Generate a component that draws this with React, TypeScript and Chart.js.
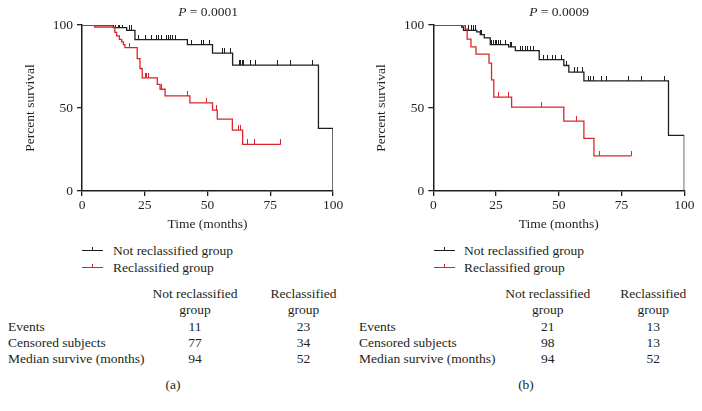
import React, { useEffect, useRef } from "react";
import { Chart, registerables } from "chart.js";
Chart.register(...registerables);

// ---------- data ----------
const xTickValues = [0, 25, 50, 75, 100];
const yTickValues = [0, 50, 100];
const groupNames = ["Not reclassified group", "Reclassified group"];
const pValues = ["0.0001", "0.0009"];
const panelLetters = ["(a)", "(b)"];
const tableRowLabels = ["Events", "Censored subjects", "Median survive (months)"];
const tableA_notReclassified = ["11", "77", "94"];
const tableA_reclassified = ["23", "34", "52"];
const tableB_notReclassified = ["21", "98", "94"];
const tableB_reclassified = ["13", "13", "52"];

// Panel (a) — Kaplan–Meier steps (time in months, percent survival)
const aNotT = [0, 12.5, 17.8, 21.1, 42, 52, 60, 94.2, 100];
const aNotS = [100, 98.4, 96.8, 91.2, 88.2, 83, 75.8, 37.7, 0];
const aNotCensor = [7.2, 7.8, 8.5, 11.2, 13.5, 14.5, 15.1, 16.2, 18.9, 19.8, 22.4, 25.1, 27.8, 29.5, 30.4, 31.7, 33.7, 34.4, 35.1, 36, 37.1, 43.7, 47.7, 48.3, 50.7, 56, 56.9, 59, 62.7, 63.2, 63.9, 64.3, 67.2, 69.3, 77.8, 83.1, 91.9];
const aRecT = [0, 5, 13.1, 13.8, 14.9, 15.8, 16.5, 17.1, 22, 23.1, 24, 30, 31.1, 33.1, 43, 52, 53.9, 59.9, 64, 79.2];
const aRecS = [100, 98.8, 95.5, 93.4, 91.4, 89.8, 88.2, 86.4, 79.8, 73.8, 68.2, 64.2, 61.3, 57.3, 53.1, 48.7, 43.3, 36.7, 28.1, 28.1];
const aRecCensor = [19.1, 25.1, 25.8, 26.4, 31.7, 42, 49.7, 53.4, 62.3, 63, 65.9, 68.9, 79.2];

// Panel (b)
const bNotT = [0, 11.3, 12, 17.3, 18.7, 20.3, 22.7, 30, 32.7, 42.2, 52, 54, 60, 93.7, 100];
const bNotS = [100, 98.8, 96.8, 95.8, 94.2, 92.2, 88.2, 86.8, 84.6, 79.2, 75.6, 71.6, 66.3, 33.5, 0];
const bNotCensor = [7.3, 8, 8.7, 9.3, 12.7, 14, 15.3, 16, 16.7, 18.9, 19.3, 23.3, 24, 24.7, 25.3, 26, 26.7, 28.7, 30.7, 31.3, 34.7, 35.7, 36.7, 37.7, 38.7, 40, 44, 45.3, 47.3, 48.7, 51, 53, 56.3, 57.3, 59.3, 62, 62.7, 63.7, 66.9, 69.1, 77.6, 83, 92];
const bRecT = [0, 12.7, 13.5, 15, 17, 22.2, 23.2, 24.1, 31.2, 52, 60, 64, 79];
const bRecS = [100, 97.5, 91.5, 86.8, 82.5, 77, 67, 56.5, 50.5, 42.1, 31.7, 21.2, 21.2];
const bRecCensor = [9.3, 10, 26, 30, 43.3, 57.1, 66.3, 79];

// ---------- styles ----------
const BLACK = "#1e1e1e";
const RED = "#d9262c";
const TEXT = "#231f20";
const FONT = "'Liberation Serif', 'Times New Roman', serif";
const FS = 13.5;

function stepAt(ts: number[], ss: number[], t: number) {
  let v = ss[0];
  for (let i = 0; i < ts.length; i++) if (ts[i] <= t) v = ss[i];
  return v;
}

function tickImage(color: string) {
  const c = document.createElement("canvas");
  c.width = 1;
  c.height = 10;
  const g = c.getContext("2d")!;
  g.fillStyle = color;
  g.fillRect(0, 0, 1, 5);
  return c;
}

type PanelData = {
  notT: number[]; notS: number[]; notC: number[];
  recT: number[]; recS: number[]; recC: number[];
};

function KMChart({ d, left, width, axisW }: { d: PanelData; left: number; width: number; axisW: number }) {
  const ref = useRef<HTMLCanvasElement>(null);
  useEffect(() => {
    const toPts = (ts: number[], ss: number[]) => ts.map((t, i) => ({ x: t, y: ss[i] }));
    const cens = (cs: number[], ts: number[], ss: number[]) => cs.map((t) => ({ x: t, y: stepAt(ts, ss, t) }));
    const chart = new Chart(ref.current!, {
      type: "line",
      data: {
        datasets: [
          { data: toPts(d.recT, d.recS), stepped: "before", borderColor: RED, borderWidth: 1.3, pointRadius: 0, fill: false },
          { data: cens(d.recC, d.recT, d.recS), showLine: false, pointStyle: tickImage(RED) as any, pointRadius: 4, borderColor: RED, backgroundColor: RED },
          { data: toPts(d.notT, d.notS), stepped: "before", borderColor: BLACK, borderWidth: 1.3, pointRadius: 0, fill: false },
          { data: cens(d.notC, d.notT, d.notS), showLine: false, pointStyle: tickImage(BLACK) as any, pointRadius: 4, borderColor: BLACK, backgroundColor: BLACK },
        ],
      },
      options: {
        responsive: false,
        animation: false,
        events: [],
        layout: { padding: { top: 25, right: width - axisW - 251, bottom: 0, left: 0 } },
        plugins: { legend: { display: false }, tooltip: { enabled: false } },
        scales: {
          x: {
            type: "linear",
            min: 0,
            max: 100,
            afterFit: (s: any) => { s.height = 49; },
            afterBuildTicks: (s: any) => { s.ticks = xTickValues.map((v) => ({ value: v })); },
            border: { display: true, color: BLACK, width: 1.5 },
            grid: { display: true, drawOnChartArea: false, drawTicks: true, tickLength: 5, color: BLACK, lineWidth: 1.3 },
            ticks: { color: TEXT, font: { family: FONT, size: FS }, padding: 1, maxRotation: 0 },
            title: { display: true, text: "Time (months)", color: TEXT, font: { family: FONT, size: FS }, padding: { top: 0, bottom: 7 } },
          },
          y: {
            type: "linear",
            min: 0,
            max: 100,
            afterFit: (s: any) => { s.width = axisW; },
            afterBuildTicks: (s: any) => { s.ticks = yTickValues.map((v) => ({ value: v })); },
            border: { display: true, color: BLACK, width: 1.5 },
            grid: { display: true, drawOnChartArea: false, drawTicks: true, tickLength: 5, color: BLACK, lineWidth: 1.3 },
            ticks: { color: TEXT, font: { family: FONT, size: FS }, padding: 4 },
            title: { display: true, text: "Percent survival", color: TEXT, font: { family: FONT, size: FS }, padding: { top: 22, bottom: 0 } },
          },
        },
      },
    } as any);
    return () => chart.destroy();
  }, []);
  return (
    <canvas
      ref={ref}
      width={width}
      height={240}
      style={{ position: "absolute", left, top: 0, width, height: 240 }}
    />
  );
}

function Txt({ x, y, children, align = "left", w = 0 }: any) {
  const style: any = {
    position: "absolute",
    top: y - 8,
    lineHeight: "16px",
    whiteSpace: "nowrap",
  };
  if (align === "center") {
    style.left = x - 100;
    style.width = 200;
    style.textAlign = "center";
  } else {
    style.left = x;
  }
  return <div style={style}>{children}</div>;
}

function LegendLine({ x, y, color }: { x: number; y: number; color: string }) {
  return (
    <>
      <div style={{ position: "absolute", left: x, top: y - 0.6, width: 21, height: 0, borderTop: `1.3px solid ${color}` }} />
      <div style={{ position: "absolute", left: x + 10, top: y - 4, width: 1, height: 4, background: color }} />
    </>
  );
}

function Panel({ off, p, letter, notCol, recCol, labX, c1, c2, capX, lineX, textX }: any) {
  return (
    <>
      <Txt x={off} y={12} align="center">
        <i>P</i> = {p}
      </Txt>
      <LegendLine x={lineX} y={251} color={BLACK} />
      <LegendLine x={lineX} y={268} color={RED} />
      <Txt x={textX} y={251}>{groupNames[0]}</Txt>
      <Txt x={textX} y={268}>{groupNames[1]}</Txt>
      <Txt x={c1} y={294} align="center">Not reclassified</Txt>
      <Txt x={c1} y={310} align="center">group</Txt>
      <Txt x={c2} y={294} align="center">Reclassified</Txt>
      <Txt x={c2} y={310} align="center">group</Txt>
      {tableRowLabels.map((l, i) => (
        <React.Fragment key={l}>
          <Txt x={labX} y={326.7 + i * 16}>{l}</Txt>
          <Txt x={c1} y={326.7 + i * 16} align="center">{notCol[i]}</Txt>
          <Txt x={c2} y={326.7 + i * 16} align="center">{recCol[i]}</Txt>
        </React.Fragment>
      ))}
      <Txt x={capX} y={385} align="center">{letter}</Txt>
    </>
  );
}

export default function App() {
  const dA: PanelData = { notT: aNotT, notS: aNotS, notC: aNotCensor, recT: aRecT, recS: aRecS, recC: aRecCensor };
  const dB: PanelData = { notT: bNotT, notS: bNotS, notC: bNotCensor, recT: bRecT, recS: bRecS, recC: bRecCensor };
  return (
    <div
      style={{
        position: "absolute",
        left: 0,
        top: 0,
        width: 702,
        height: 411,
        background: "#fff",
        fontFamily: FONT,
        fontSize: FS,
        color: TEXT,
        overflow: "hidden",
      }}
    >
      <KMChart d={dA} left={0} width={351} axisW={82} />
      <KMChart d={dB} left={351} width={351} axisW={82.3} />
      <Panel off={208} p={pValues[0]} letter={panelLetters[0]} notCol={tableA_notReclassified} recCol={tableA_reclassified}
        labX={8} c1={195} c2={303.5} capX={173} lineX={82} textX={113} />
      <Panel off={559} p={pValues[1]} letter={panelLetters[1]} notCol={tableB_notReclassified} recCol={tableB_reclassified}
        labX={359} c1={547.7} c2={653.3} capX={526} lineX={434} textX={464} />
    </div>
  );
}
